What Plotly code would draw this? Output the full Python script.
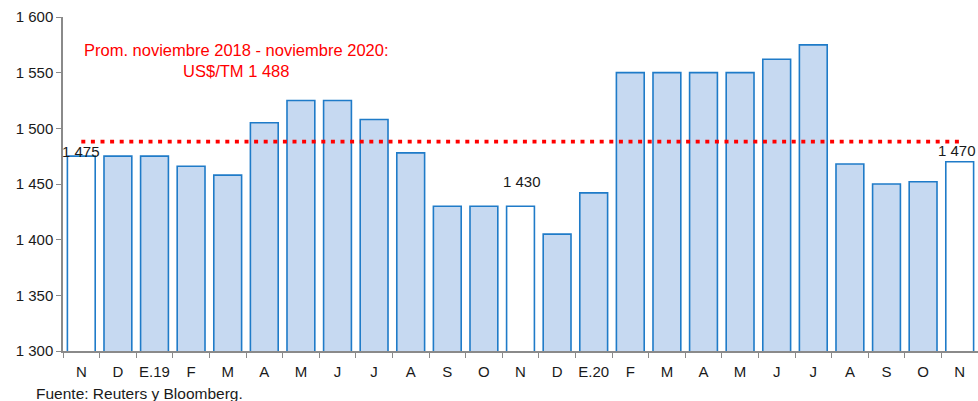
import plotly.graph_objects as go

months = ["N", "D", "E.19", "F", "M", "A", "M", "J", "J", "A", "S", "O",
          "N", "D", "E.20", "F", "M", "A", "M", "J", "J", "A", "S", "O", "N"]
prices = [1475, 1475, 1475, 1466, 1458, 1505, 1525, 1525, 1508, 1478, 1430, 1430,
          1430, 1405, 1442, 1550, 1550, 1550, 1550, 1562, 1575, 1468, 1450, 1452, 1470]
highlight = [0, 12, 24]
average = 1488
y_ticks = [1300, 1350, 1400, 1450, 1500, 1550, 1600]
y_tick_text = ["1 300", "1 350", "1 400", "1 450", "1 500", "1 550", "1 600"]
labels = {0: "1 475", 12: "1 430", 24: "1 470"}
note = "Prom. noviembre 2018 - noviembre 2020:<br>US$/TM 1 488"
source = "Fuente: Reuters y Bloomberg."

idx = list(range(len(months)))
fills = ["#FFFFFF" if i in highlight else "#C6D9F1" for i in idx]

fig = go.Figure()
fig.add_trace(go.Bar(
    x=idx, y=prices, width=0.76,
    marker=dict(color=fills, line=dict(color="#1F7BC8", width=1.6)),
    hoverinfo="skip",
))
fig.add_trace(go.Scatter(
    x=[idx[0], idx[-1]], y=[average, average], mode="lines",
    line=dict(color="#FF0000", width=3.8, dash="4px,5.6px"),
    hoverinfo="skip",
))

shifts = {0: (0, 4.5), 12: (1, 25), 24: (-3, 11.5)}
for i, t in labels.items():
    xs, ys = shifts[i]
    fig.add_annotation(x=i, y=prices[i], text=t, showarrow=False,
                       xanchor="center", yanchor="middle", xshift=xs, yshift=ys,
                       font=dict(size=15, color="#1a1a1a"))

fig.add_annotation(x=4.25, y=1561, text=note, showarrow=False,
                   xanchor="center", yanchor="middle", align="center",
                   font=dict(size=16.5, color="#FF0000"))
fig.add_annotation(x=0, xref="paper", y=0, yref="paper", text=source,
                   showarrow=False, xanchor="left", yanchor="middle",
                   xshift=-29, yshift=-42,
                   font=dict(size=15.5, color="#1a1a1a",
                             family="Liberation Sans Narrow, Arial Narrow, Liberation Sans, Arial"))

fig.update_layout(
    width=978, height=401,
    margin=dict(l=63, r=0, t=17, b=50),
    paper_bgcolor="white", plot_bgcolor="white",
    showlegend=False, bargap=0.24,
    font=dict(family="Liberation Sans, Arial", size=15, color="#1a1a1a"),
)
fig.update_xaxes(
    range=[-0.5, len(months) - 0.5],
    tickmode="array", tickvals=idx, ticktext=months, ticks="",
    showline=True, linecolor="#8a8a8a", linewidth=1.5,
    showgrid=False, zeroline=False,
    minor=dict(tickmode="linear", tick0=-0.5, dtick=1, ticks="outside",
               ticklen=5, tickcolor="#8a8a8a", tickwidth=1, showgrid=False),
    tickfont=dict(size=15),
    ticklabelstandoff=6,
)
fig.update_yaxes(
    range=[1300, 1600],
    tickmode="array", tickvals=y_ticks, ticktext=y_tick_text,
    ticks="outside", ticklen=5, tickcolor="#8a8a8a",
    showline=True, linecolor="#8a8a8a", linewidth=1.5,
    showgrid=False, zeroline=False,
    tickfont=dict(size=15),
)

fig.write_html("out.html", config={"displayModeBar": False},
               post_script="document.body.style.margin='0';document.body.style.overflow='hidden';")
